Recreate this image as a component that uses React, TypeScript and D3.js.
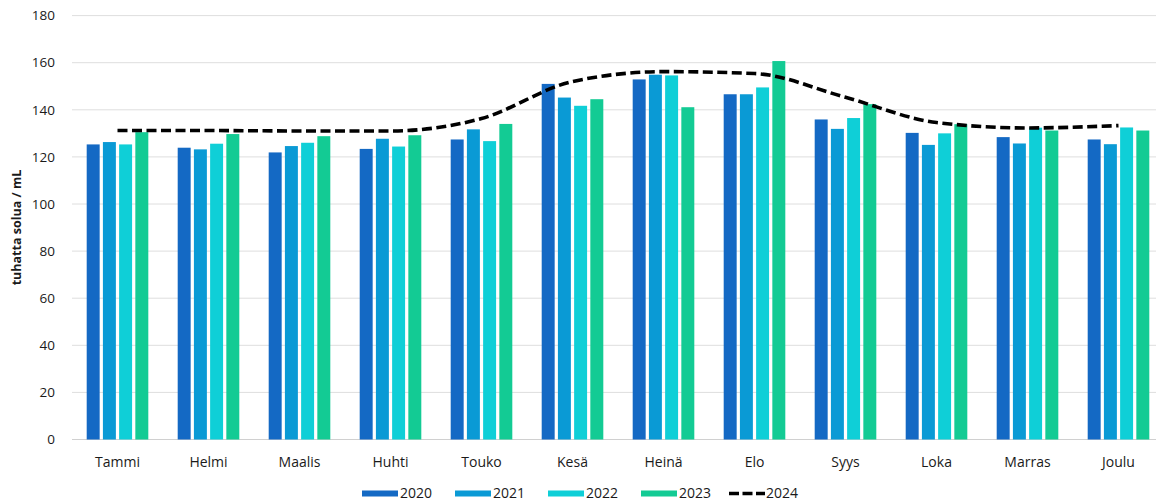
import React from "react";
import * as d3 from "d3";

// Monthly cell counts (tuhatta solua / mL) per year
const months = ["Tammi", "Helmi", "Maalis", "Huhti", "Touko", "Kesä", "Heinä", "Elo", "Syys", "Loka", "Marras", "Joulu"];
const barYears = ["2020", "2021", "2022", "2023"];
const values2020 = [125.3, 123.9, 121.9, 123.4, 127.4, 151.0, 152.9, 146.6, 135.9, 130.2, 128.4, 127.4];
const values2021 = [126.3, 123.2, 124.6, 127.7, 131.7, 145.2, 154.9, 146.6, 131.9, 125.1, 125.7, 125.4];
const values2022 = [125.3, 125.6, 126.0, 124.4, 126.7, 141.7, 154.6, 149.5, 136.5, 130.0, 132.4, 132.5];
const values2023 = [130.5, 129.7, 128.8, 129.2, 134.0, 144.5, 141.1, 160.7, 142.4, 133.9, 131.2, 131.2];
const values2024 = [131.2, 131.2, 131.0, 131.0, 136.3, 152.0, 156.2, 155.4, 145.3, 134.6, 132.3, 133.3];
const yTicks = [0, 20, 40, 60, 80, 100, 120, 140, 160, 180];
const barColors = ["#1469c4", "#0a9ad5", "#0fcfd7", "#13cb94"];

const barSeries = [values2020, values2021, values2022, values2023];

const W = 1156;
const H = 503;
const plotLeft = 72;
const plotRight = 1164;
const plotTop = 15.6;
const plotBottom = 439.5;
const font = "'Open Sans', 'Noto Sans', sans-serif";

export default function App() {
  const x0 = d3
    .scaleBand<string>()
    .domain(months)
    .range([plotLeft, plotRight])
    .paddingInner(0.323)
    .paddingOuter(0.1615);
  const x1 = d3.scaleBand<string>().domain(barYears).range([0, x0.bandwidth()]).paddingInner(0.2);
  const y = d3.scaleLinear().domain([0, 180]).range([plotBottom, plotTop]);

  const line = d3
    .line<number>()
    .x((_, i) => (x0(months[i]) as number) + x0.bandwidth() / 2)
    .y((v) => y(v))
    .curve(d3.curveMonotoneX);

  const legendBars = barYears.map((yr, i) => ({ yr, color: barColors[i], x: 362 + i * 93 }));

  return (
    <svg width={W} height={H} style={{ position: "absolute", left: 0, top: 0, background: "#fff" }} fontFamily={font}>
      {/* horizontal gridlines */}
      {yTicks.map((t) => (
        <line key={t} x1={plotLeft} x2={W} y1={y(t)} y2={y(t)} stroke={t === 0 ? "#d0d0d0" : "#dedede"} strokeWidth={1} />
      ))}
      {/* y tick labels */}
      {yTicks.map((t) => (
        <text key={t} x={55} y={y(t)} dy="0.35em" textAnchor="end" fontSize={13.5} fill="#1a1a1a">
          {t}
        </text>
      ))}
      {/* y axis title */}
      <text
        transform={`translate(17,${(plotTop + plotBottom) / 2}) rotate(-90)`}
        textAnchor="middle"
        dy="0.35em"
        fontSize={12.5}
        fontWeight="bold"
        fill="#1a1a1a"
      >
        tuhatta solua / mL
      </text>
      {/* grouped bars */}
      {months.map((m, mi) => (
        <g key={m} transform={`translate(${x0(m)},0)`}>
          {barYears.map((yr, si) => {
            const v = barSeries[si][mi];
            return (
              <rect
                key={yr}
                x={x1(yr)}
                y={y(v)}
                width={x1.bandwidth()}
                height={plotBottom - y(v)}
                fill={barColors[si]}
              />
            );
          })}
        </g>
      ))}
      {/* 2024 smoothed dashed line */}
      <path d={line(values2024) || ""} fill="none" stroke="#000" strokeWidth={3.6} strokeDasharray="10,4.5" />
      {/* month labels */}
      {months.map((m) => (
        <text
          key={m}
          x={(x0(m) as number) + x0.bandwidth() / 2}
          y={462}
          dy="0.35em"
          textAnchor="middle"
          fontSize={14}
          fill="#1a1a1a"
        >
          {m}
        </text>
      ))}
      {/* legend */}
      {legendBars.map((d) => (
        <g key={d.yr}>
          <rect x={d.x} y={490.5} width={36} height={6} fill={d.color} />
          <text x={d.x + 38} y={493.5} dy="0.35em" fontSize={14} fill="#1a1a1a">
            {d.yr}
          </text>
        </g>
      ))}
      <line x1={729} x2={765} y1={493.5} y2={493.5} stroke="#000" strokeWidth={3.6} strokeDasharray="10,3.5" />
      <text x={766} y={493.5} dy="0.35em" fontSize={14} fill="#1a1a1a">
        2024
      </text>
    </svg>
  );
}
